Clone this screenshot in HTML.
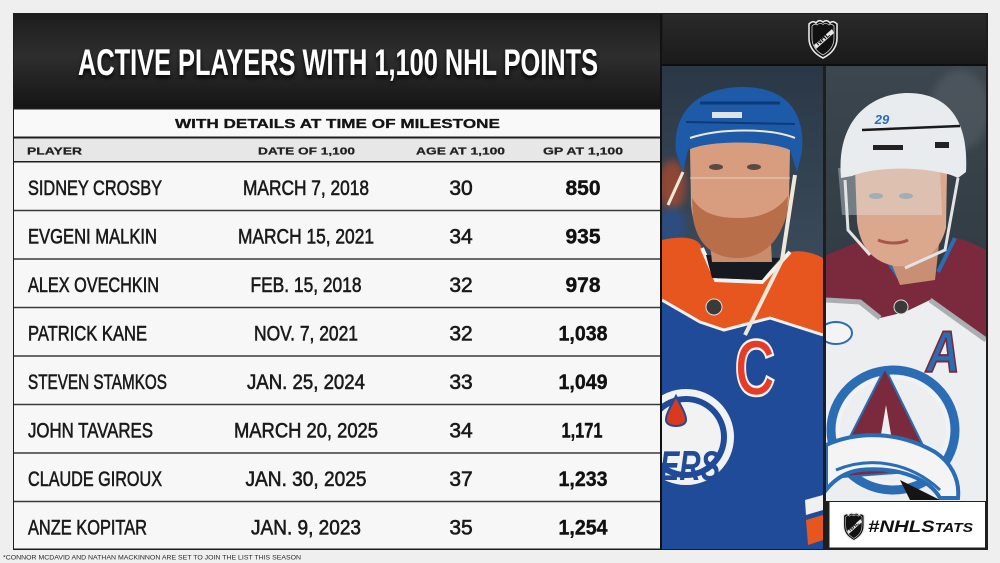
<!DOCTYPE html>
<html>
<head>
<meta charset="utf-8">
<style>
  html,body{margin:0;padding:0;background:#efefef;}
  svg{display:block;}
  text{font-family:"Liberation Sans",Arial,sans-serif;}
</style>
</head>
<body>
<svg width="1000" height="563" viewBox="0 0 1000 563" xmlns="http://www.w3.org/2000/svg">
  <defs>
    <linearGradient id="band" x1="0" y1="0" x2="0" y2="1">
      <stop offset="0" stop-color="#1d1d1d"/>
      <stop offset="0.45" stop-color="#2e2e2e"/>
      <stop offset="1" stop-color="#151515"/>
    </linearGradient>
    <linearGradient id="band2" x1="0" y1="0" x2="0" y2="1">
      <stop offset="0" stop-color="#2a2a2a"/>
      <stop offset="1" stop-color="#1a1a1a"/>
    </linearGradient>
    <linearGradient id="bgL" x1="0" y1="0" x2="0" y2="1">
      <stop offset="0" stop-color="#2a3846"/>
      <stop offset="0.4" stop-color="#3b4a5a"/>
      <stop offset="1" stop-color="#26303c"/>
    </linearGradient>
    <linearGradient id="bgR" x1="0" y1="0" x2="0" y2="1">
      <stop offset="0" stop-color="#3c464f"/>
      <stop offset="0.5" stop-color="#313b43"/>
      <stop offset="1" stop-color="#283038"/>
    </linearGradient>
    <filter id="sh" x="-5%" y="-30%" width="110%" height="170%">
      <feDropShadow dx="0" dy="3" stdDeviation="2" flood-color="#000" flood-opacity="0.85"/>
    </filter>
    <filter id="blur4"><feGaussianBlur stdDeviation="4"/></filter>
    <clipPath id="clipL"><rect x="662" y="66" width="161" height="483"/></clipPath>
    <clipPath id="clipR"><rect x="826" y="66" width="160" height="435"/></clipPath>
    <g id="shield">
      <path d="M2,6 Q6,2 9,5 Q12,1 16,4 Q20,1 23,5 Q26,2 30,6 L30,20 Q30,33 16,40 Q2,33 2,20 Z" fill="#111" stroke="#e8e8e8" stroke-width="1.6"/>
      <path d="M5,8 Q8,5 10,7 Q13,4 16,6.5 Q19,4 22,7 Q24,5 27,8 L27,20 Q27,31 16,37 Q5,31 5,20 Z" fill="none" stroke="#cfcfcf" stroke-width="0.8"/>
      <path d="M7,27 L25,11 L27,15 L9,31 Z" fill="#e8e8e8"/>
      <text x="16" y="23" font-size="8" font-weight="bold" fill="#111" text-anchor="middle" transform="rotate(-40 16 21)">NHL</text>
    </g>
  </defs>

  <rect x="0" y="0" width="1000" height="563" fill="#efefef"/>
  <rect x="13" y="13" width="975" height="537" fill="#1e1e1e"/>

  <!-- title band -->
  <rect x="14" y="14" width="647" height="94" fill="url(#band)"/>
  <text x="338" y="75" font-size="37" font-weight="bold" fill="#ffffff" text-anchor="middle" textLength="520" lengthAdjust="spacingAndGlyphs" filter="url(#sh)">ACTIVE PLAYERS WITH 1,100 NHL POINTS</text>

  <!-- subtitle row -->
  <rect x="14" y="109.5" width="646" height="27" fill="#f9f9f9"/>
  <text x="337.5" y="128" font-size="13" font-weight="bold" fill="#141414" text-anchor="middle" textLength="325" lengthAdjust="spacingAndGlyphs" stroke="#141414" stroke-width="0.3">WITH DETAILS AT TIME OF MILESTONE</text>

  <!-- header row -->
  <rect x="14" y="138.5" width="646" height="22.5" fill="#e7e7e7"/>
  <g font-size="10.5" font-weight="bold" fill="#222" stroke="#222" stroke-width="0.25">
    <text x="27" y="154.5" textLength="55" lengthAdjust="spacingAndGlyphs">PLAYER</text>
    <text x="258" y="154.5" textLength="97" lengthAdjust="spacingAndGlyphs">DATE OF 1,100</text>
    <text x="416" y="154.5" textLength="89" lengthAdjust="spacingAndGlyphs">AGE AT 1,100</text>
    <text x="543" y="154.5" textLength="80" lengthAdjust="spacingAndGlyphs">GP AT 1,100</text>
  </g>

  <!-- data rows -->
  <rect x="14" y="162.5" width="646" height="386" fill="#f7f7f7"/>
  <g stroke="#3a3a3a" stroke-width="1.6">
    <line x1="14" y1="210.5" x2="660" y2="210.5"/>
    <line x1="14" y1="259" x2="660" y2="259"/>
    <line x1="14" y1="307.5" x2="660" y2="307.5"/>
    <line x1="14" y1="356" x2="660" y2="356"/>
    <line x1="14" y1="404.5" x2="660" y2="404.5"/>
    <line x1="14" y1="453" x2="660" y2="453"/>
    <line x1="14" y1="501.5" x2="660" y2="501.5"/>
  </g>

  <g font-size="21" fill="#1a1a1a" stroke="#1a1a1a" stroke-width="0.6">
    <text x="28" y="195" textLength="134" lengthAdjust="spacingAndGlyphs">SIDNEY CROSBY</text>
    <text x="306" y="195" text-anchor="middle" textLength="126" lengthAdjust="spacingAndGlyphs">MARCH 7, 2018</text>
    <text x="461" y="195" text-anchor="middle">30</text>

    <text x="28" y="243.5" textLength="129" lengthAdjust="spacingAndGlyphs">EVGENI MALKIN</text>
    <text x="306" y="243.5" text-anchor="middle" textLength="136" lengthAdjust="spacingAndGlyphs">MARCH 15, 2021</text>
    <text x="461" y="243.5" text-anchor="middle">34</text>

    <text x="28" y="292" textLength="131" lengthAdjust="spacingAndGlyphs">ALEX OVECHKIN</text>
    <text x="306" y="292" text-anchor="middle" textLength="111" lengthAdjust="spacingAndGlyphs">FEB. 15, 2018</text>
    <text x="461" y="292" text-anchor="middle">32</text>

    <text x="28" y="340.5" textLength="119" lengthAdjust="spacingAndGlyphs">PATRICK KANE</text>
    <text x="306" y="340.5" text-anchor="middle" textLength="104" lengthAdjust="spacingAndGlyphs">NOV. 7, 2021</text>
    <text x="461" y="340.5" text-anchor="middle">32</text>

    <text x="28" y="389" textLength="139" lengthAdjust="spacingAndGlyphs">STEVEN STAMKOS</text>
    <text x="306" y="389" text-anchor="middle" textLength="118" lengthAdjust="spacingAndGlyphs">JAN. 25, 2024</text>
    <text x="461" y="389" text-anchor="middle">33</text>

    <text x="28" y="437.5" textLength="125" lengthAdjust="spacingAndGlyphs">JOHN TAVARES</text>
    <text x="306" y="437.5" text-anchor="middle" textLength="144" lengthAdjust="spacingAndGlyphs">MARCH 20, 2025</text>
    <text x="461" y="437.5" text-anchor="middle">34</text>

    <text x="28" y="486" textLength="134" lengthAdjust="spacingAndGlyphs">CLAUDE GIROUX</text>
    <text x="306" y="486" text-anchor="middle" textLength="121" lengthAdjust="spacingAndGlyphs">JAN. 30, 2025</text>
    <text x="461" y="486" text-anchor="middle">37</text>

    <text x="28" y="534.5" textLength="119" lengthAdjust="spacingAndGlyphs">ANZE KOPITAR</text>
    <text x="306" y="534.5" text-anchor="middle" textLength="110" lengthAdjust="spacingAndGlyphs">JAN. 9, 2023</text>
    <text x="461" y="534.5" text-anchor="middle">35</text>
  </g>
  <g font-size="21" font-weight="bold" fill="#111" stroke="#111" stroke-width="0.4" text-anchor="middle">
    <text x="583" y="195">850</text>
    <text x="583" y="243.5">935</text>
    <text x="583" y="292">978</text>
    <text x="583" y="340.5" textLength="49" lengthAdjust="spacingAndGlyphs">1,038</text>
    <text x="583" y="389" textLength="49" lengthAdjust="spacingAndGlyphs">1,049</text>
    <text x="582" y="437.5" textLength="41" lengthAdjust="spacingAndGlyphs">1,171</text>
    <text x="583" y="486" textLength="49" lengthAdjust="spacingAndGlyphs">1,233</text>
    <text x="583" y="534.5" textLength="49" lengthAdjust="spacingAndGlyphs">1,254</text>
  </g>

  <!-- right NHL band -->
  <rect x="663" y="14" width="323" height="50" fill="url(#band2)"/>
  <use href="#shield" transform="translate(807,18)"/>

  <!-- LEFT PHOTO (Oilers) -->
  <g clip-path="url(#clipL)">
    <rect x="662" y="66" width="161" height="483" fill="url(#bgL)"/>
    <ellipse cx="672" cy="185" rx="14" ry="25" fill="#b5482c" opacity="0.7" filter="url(#blur4)"/>
    <ellipse cx="672" cy="225" rx="14" ry="18" fill="#2c4f8a" opacity="0.8" filter="url(#blur4)"/>
    <path d="M662,290 L700,300 L735,315 L780,300 L823,300 L823,549 L662,549 Z" fill="#1f4b99"/>
    <path d="M662,240 C680,236 698,236 702,248 L716,280 L762,282 L790,252 C800,250 812,252 823,258 L823,335 L770,318 L724,330 L700,322 L662,300 Z" fill="#e8561f"/>
    <path d="M662,300 L700,322 L724,330 L770,318 L823,335" fill="none" stroke="#f1f1f1" stroke-width="3"/>
    <path d="M702,248 L716,280 L762,282 L790,252" fill="none" stroke="#f1f1f1" stroke-width="4"/>
    <path d="M706,255 L712,278 L762,280 L780,258 Z" fill="#161a20"/>
    <circle cx="714" cy="307" r="8" fill="#3a3a3a" stroke="#ddd" stroke-width="1"/>
    <path d="M708,225 L770,225 L772,262 L712,262 Z" fill="#c98c6d"/>
    <path d="M690,148 C695,138 782,136 790,150 L789,200 C784,236 762,255 737,256 C712,256 694,238 691,205 Z" fill="#d89c7e"/>
    <path d="M692,198 C700,212 715,218 738,218 C762,218 778,210 788,196 L787,214 C778,246 760,258 737,258 C713,258 697,244 693,218 Z" fill="#b86e48"/>
    <ellipse cx="716" cy="167" rx="7" ry="3" fill="#5a4a44"/>
    <ellipse cx="754" cy="167" rx="7" ry="3" fill="#5a4a44"/>
    <path d="M690,178 L790,178" stroke="#e9d6cc" stroke-width="1.5" opacity="0.6"/>
    <path d="M676,152 C672,110 700,88 740,87 C780,86 806,106 802,152 L797,172 L790,150 C770,140 708,140 688,150 L683,172 Z" fill="#1d5aa8"/>
    <path d="M700,103 L780,103" stroke="#0f3a78" stroke-width="3"/>
    <path d="M686,122 L795,124" stroke="#0f3a78" stroke-width="2"/>
    <rect x="712" y="112" width="30" height="6" fill="#f2f2f2" opacity="0.9"/>
    <path d="M690,138 C720,128 770,128 795,138" stroke="#f0e8d8" stroke-width="2" fill="none"/>
    <path d="M795,175 L782,260 L745,335" stroke="#efe8d8" stroke-width="4" fill="none"/>
    <path d="M683,172 L668,205" stroke="#efe8d8" stroke-width="3" fill="none"/>
    <text x="755" y="395" font-size="80" font-weight="bold" fill="#e63c25" stroke="#f4f4f4" stroke-width="2.5" text-anchor="middle" transform="translate(755 0) scale(0.7 1) translate(-755 0)">C</text>
    <circle cx="686" cy="437" r="48" fill="#f2f2f2"/>
    <circle cx="686" cy="437" r="41" fill="#1f4b99"/>
    <circle cx="686" cy="437" r="35" fill="#f2f2f2"/>
    <path d="M676,396 C682,408 686,414 686,420 C686,428 666,428 666,420 C666,414 670,408 676,396 Z" fill="#d8391f" stroke="#1f4b99" stroke-width="2"/>
    <text x="690" y="480" font-size="42" font-weight="bold" font-style="italic" fill="#1f4b99" text-anchor="middle" transform="translate(690 0) scale(0.7 1) translate(-690 0)">ERS</text>
    <path d="M805,500 L823,495 L823,510 L806,515 Z" fill="#f0f0f0"/>
    <path d="M806,520 L823,515 L823,540 L808,545 Z" fill="#e8561f"/>
  </g>

  <!-- RIGHT PHOTO (Avalanche) -->
  <g clip-path="url(#clipR)">
    <rect x="826" y="66" width="160" height="435" fill="url(#bgR)"/>
    <ellipse cx="960" cy="110" rx="30" ry="40" fill="#5b646b" opacity="0.5" filter="url(#blur4)"/>
    <path d="M826,280 L986,270 L986,501 L826,501 Z" fill="#eceeef"/>
    <path d="M826,255 C845,248 860,240 872,238 L902,282 L938,272 L955,238 C968,240 978,246 986,250 L986,340 L965,325 L930,300 L905,312 L880,318 L860,302 L826,300 Z" fill="#7a2a3c"/>
    <path d="M872,238 L902,282" stroke="#2a6db5" stroke-width="4"/>
    <path d="M938,272 L955,238" stroke="#2a6db5" stroke-width="4"/>
    <path d="M826,300 L860,302 L880,318" stroke="#a9aeb2" stroke-width="5" fill="none"/>
    <path d="M930,300 L965,325 L986,340" stroke="#a9aeb2" stroke-width="5" fill="none"/>
    <path d="M880,235 L940,235 L935,280 L900,285 Z" fill="#c98f74"/>
    <circle cx="901" cy="307" r="7" fill="#3a3a3a" stroke="#ddd" stroke-width="1"/>
    <path d="M855,168 C860,160 945,160 947,172 L946,228 C938,258 915,268 895,266 C872,262 860,246 857,222 Z" fill="#dba78d"/>
    <ellipse cx="876" cy="196" rx="7" ry="3" fill="#7a8a96"/>
    <ellipse cx="906" cy="196" rx="7" ry="3" fill="#7a8a96"/>
    <path d="M878,240 C888,244 900,244 908,240" stroke="#a8564a" stroke-width="3" fill="none"/>
    <path d="M838,168 L940,168 L942,215 L842,215 Z" fill="#e6f0f5" opacity="0.35"/>
    <path d="M841,178 C836,122 868,95 905,93 C945,92 969,116 966,172 L958,178 C940,168 880,164 852,176 Z" fill="#e9ecee"/>
    <path d="M862,130 L960,126" stroke="#1a1a1a" stroke-width="2.5"/>
    <rect x="873" y="145" width="30" height="5" fill="#222"/>
    <rect x="935" y="142" width="14" height="6" fill="#222"/>
    <text x="882" y="124" font-size="13" font-weight="bold" font-style="italic" fill="#2a6db5" text-anchor="middle">29</text>
    <path d="M958,178 L945,250 L905,268" stroke="#e3e3e3" stroke-width="3" fill="none"/>
    <path d="M845,180 L848,230 L870,255" stroke="#e3e3e3" stroke-width="3" fill="none"/>
    <ellipse cx="836" cy="333" rx="16" ry="11" fill="#f4f4f4" stroke="#2a6db5" stroke-width="2"/>
    <text x="943" y="372" font-size="58" font-weight="bold" font-style="italic" fill="#2a6db5" stroke="#7a2a3c" stroke-width="2" text-anchor="middle" transform="translate(943 0) scale(0.8 1) translate(-943 0)">A</text>
    <ellipse cx="893" cy="430" rx="62" ry="60" fill="none" stroke="#2a6db5" stroke-width="9"/>
    <ellipse cx="893" cy="430" rx="55" ry="53" fill="none" stroke="#f2f2f2" stroke-width="4"/>
    <path d="M829,478 L885,368 L935,470 Z" fill="#7a2a3c" stroke="#2a6db5" stroke-width="2"/>
    <path d="M878,452 L886,405 L894,452 Z" fill="#eceeef"/>
    <path d="M826,445 C860,430 900,432 935,452 C950,462 960,478 958,498 L940,498 C930,480 900,466 860,470 C845,472 834,480 826,490 Z" fill="#f4f4f4" stroke="#2a6db5" stroke-width="4"/>
    <path d="M836,470 C870,456 910,462 940,490" stroke="#2a6db5" stroke-width="3" fill="none"/>
    <path d="M900,480 L940,500 L910,500 Z" fill="#151515"/>
  </g>

  <!-- separators -->
  <rect x="823" y="65" width="3" height="485" fill="#1e1e1e"/>
  <rect x="662" y="64" width="325" height="2" fill="#0e0e0e"/>
  <rect x="660" y="14" width="2" height="536" fill="#111"/>

  <!-- #NHLStats box -->
  <rect x="829" y="501.5" width="156.5" height="46.5" fill="#ffffff" stroke="#222" stroke-width="1"/>
  <use href="#shield" transform="translate(842,511) scale(0.74)"/>
  <text x="868" y="532" font-weight="bold" font-style="italic" fill="#111" textLength="105" lengthAdjust="spacingAndGlyphs"><tspan font-size="17">#NHLS</tspan><tspan font-size="13">TATS</tspan></text>

  <!-- footer -->
  <text x="3" y="559.5" font-size="6.8" fill="#2a2a2a" textLength="298" lengthAdjust="spacingAndGlyphs">*CONNOR MCDAVID AND NATHAN MACKINNON ARE SET TO JOIN THE LIST THIS SEASON</text>
</svg>
</body>
</html>
